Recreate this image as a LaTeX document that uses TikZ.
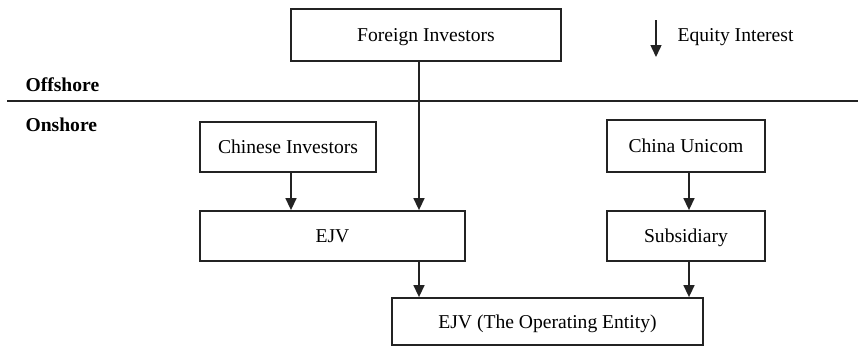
\documentclass[tikz,border=0pt]{standalone}
\usepackage{fontspec}
\setmainfont{Liberation Serif}
\usepackage{tikz}
\usetikzlibrary{arrows.meta}
\definecolor{inkgray}{RGB}{35, 35, 35}

\begin{document}
\begin{tikzpicture}[
        x=0.5pt, y=-0.5pt,
        font=\fontsize{9.8pt}{12pt}\selectfont,
        entbox/.style={rectangle, draw=inkgray, line width=0.9pt, minimum height=25pt, align=center, inner sep=2pt, text height=0.8em, text depth=0.14em},
        zone/.style={anchor=west, font=\fontsize{9.8pt}{12pt}\selectfont\bfseries},
        arrow/.style={-{Triangle[width=5.5pt, length=6pt]}, line width=0.75pt, color=inkgray}
    ]
        \useasboundingbox (0,0) rectangle (858,348);

        % Offshore
        \node[entbox, minimum width=135pt, minimum height=26pt] (fi) at (426,35) {Foreign Investors};
        \coordinate (leg) at (656,20);
        \node[anchor=west] (eq) at (670.5,37) {Equity Interest};
        \node[zone] (off) at (18.5,85) {Offshore};

        % Divider
        \coordinate (dl) at (7,101);
        \coordinate (dr) at (858,101);
        \draw[line width=1pt, color=inkgray] (dl) -- (dr);

        % Onshore
        \node[zone] (on) at (18.5,125) {Onshore};
        \node[entbox, minimum width=88pt] (ci) at (288,147) {Chinese Investors};
        \node[entbox, minimum width=79pt, minimum height=26pt] (cu) at (686,146) {China Unicom};
        \node[entbox, minimum width=132.5pt] (ejv) at (332.5,236) {EJV};
        \node[entbox, minimum width=79pt] (sub) at (686,236) {Subsidiary};
        \node[entbox, minimum width=155.5pt, minimum height=23.5pt] (op) at (547.5,321.5) {EJV (The Operating Entity)};

        % Connections
        \draw[arrow] (leg) -- ++(0,37);
        \draw[arrow] ([xshift=-3.5pt]fi.south) -- ([xshift=-3.5pt]fi.south |- ejv.north);
        \draw[arrow] ([xshift=1.5pt]ci.south) -- ([xshift=1.5pt]ci.south |- ejv.north);
        \draw[arrow] ([xshift=-3.5pt]fi.south |- ejv.south) -- ([xshift=-3.5pt]fi.south |- op.north);
        \draw[arrow] ([xshift=1.5pt]cu.south) -- ([xshift=1.5pt]sub.north);
        \draw[arrow] ([xshift=1.5pt]sub.south) -- ([xshift=1.5pt]sub.south |- op.north);
    \end{tikzpicture}
\end{document}
